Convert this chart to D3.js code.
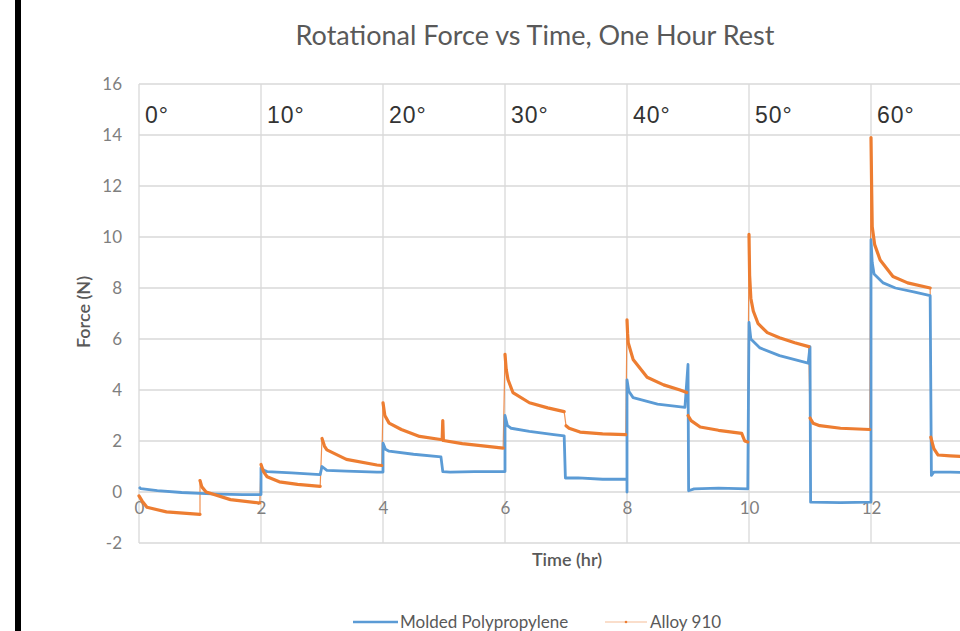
<!DOCTYPE html>
<html>
<head>
<meta charset="utf-8">
<script src="https://cdn.jsdelivr.net/npm/d3@7"></script>
<style>
  body { margin: 0; background: #fff; overflow: hidden; }
  svg { display: block; }
</style>
</head>
<body>
<div id="chart"></div>
<script>
// values: [time (hr), force (N)], one hold per inner array
var moldedPP = [
  [[0, 0.2], [0.03, 0.13], [0.3, 0.05], [0.7, -0.02], [1.0, -0.05]],
  [[1.0, -0.05], [1.3, -0.08], [1.7, -0.1], [2.0, -0.1]],
  [[2.0, 0.95], [2.05, 0.85], [2.1, 0.8], [2.5, 0.75], [2.97, 0.68]],
  [[3.0, 1.0], [3.08, 0.85], [3.4, 0.82], [3.9, 0.78], [4.0, 0.78]],
  [[4.0, 1.92], [4.04, 1.68], [4.1, 1.6], [4.5, 1.48], [4.95, 1.38]],
  [[4.98, 0.8], [5.1, 0.78], [5.5, 0.8], [6.0, 0.8]],
  [[6.0, 3.0], [6.04, 2.6], [6.1, 2.5], [6.4, 2.38], [6.8, 2.25], [6.97, 2.2]],
  [[6.99, 0.55], [7.2, 0.55], [7.6, 0.5], [8.0, 0.5], [8.0, 0.0]],
  [[8.0, 4.4], [8.03, 3.95], [8.1, 3.7], [8.5, 3.45], [8.95, 3.32], [9.0, 5.0]],
  [[9.01, 0.05], [9.1, 0.12], [9.5, 0.15], [9.98, 0.12]],
  [[10.0, 6.65], [10.03, 6.0], [10.18, 5.65], [10.5, 5.35], [10.97, 5.05], [11.0, 5.7]],
  [[11.01, -0.4], [11.5, -0.42], [12.0, -0.4]],
  [[12.0, 9.9], [12.02, 9.0], [12.05, 8.55], [12.2, 8.2], [12.4, 8.0], [12.7, 7.85], [12.97, 7.7]],
  [[12.99, 0.65], [13.03, 0.78], [13.3, 0.78], [13.6, 0.76]]
];

var alloy910 = [
  [[0, -0.15], [0.05, -0.35], [0.13, -0.6], [0.45, -0.78], [1.0, -0.88]],
  [[1.0, 0.45], [1.03, 0.2], [1.1, 0.0], [1.5, -0.3], [1.98, -0.43]],
  [[2.0, 1.08], [2.04, 0.8], [2.1, 0.6], [2.3, 0.4], [2.6, 0.3], [2.97, 0.22]],
  [[3.0, 2.1], [3.04, 1.8], [3.08, 1.65], [3.4, 1.28], [3.9, 1.06], [3.98, 1.04]],
  [[4.0, 3.5], [4.03, 3.0], [4.1, 2.7], [4.3, 2.45], [4.6, 2.18], [4.97, 2.05], [4.98, 2.8], [4.99, 2.02]],
  [[4.99, 2.02], [5.3, 1.9], [5.6, 1.82], [5.97, 1.72]],
  [[6.0, 5.4], [6.02, 4.8], [6.05, 4.4], [6.13, 3.9], [6.4, 3.5], [6.7, 3.3], [6.97, 3.15]],
  [[7.0, 2.6], [7.05, 2.5], [7.23, 2.35], [7.6, 2.28], [7.98, 2.25]],
  [[8.0, 6.75], [8.01, 6.2], [8.02, 5.85], [8.1, 5.2], [8.33, 4.5], [8.6, 4.2], [8.87, 4.0], [8.98, 3.9]],
  [[9.0, 3.0], [9.05, 2.8], [9.2, 2.55], [9.5, 2.42], [9.88, 2.3], [9.93, 2.0], [9.98, 1.96]],
  [[10.0, 10.1], [10.01, 8.5], [10.03, 7.6], [10.07, 7.1], [10.15, 6.6], [10.3, 6.25], [10.5, 6.05], [10.75, 5.85], [10.98, 5.7]],
  [[11.0, 2.9], [11.05, 2.7], [11.16, 2.6], [11.5, 2.5], [11.98, 2.45]],
  [[12.0, 13.9], [12.01, 12.0], [12.02, 10.4], [12.06, 9.7], [12.15, 9.1], [12.36, 8.45], [12.6, 8.2], [12.97, 8.0]],
  [[12.98, 2.15], [13.03, 1.7], [13.1, 1.45], [13.3, 1.42], [13.6, 1.38]]
];

var angleLabels = ["0°", "10°", "20°", "30°", "40°", "50°", "60°"];
var angleStarts = [0, 2, 4, 6, 8, 10, 12];
var xGrid = [0, 2, 4, 6, 8, 10, 12, 14, 16];
var xTickLabels = [0, 2, 4, 6, 8, 10, 12];   // 14 and 16 fall outside the picture
var yTicks = [-2, 0, 2, 4, 6, 8, 10, 12, 14, 16];
var seriesNames = ["Molded Polypropylene", "Alloy 910"];

var width = 960, height = 631;
var blue = "#5b9bd5", orange = "#ed7d31";
var font = "Lato, 'Open Sans', sans-serif";

var svg = d3.select("#chart").append("svg")
  .attr("width", width).attr("height", height);

// black strip on the left of the screenshot
svg.append("rect").attr("x", 15).attr("y", 0).attr("width", 6).attr("height", height).attr("fill", "#000");

var x = d3.scaleLinear().domain([0, 16]).range([139, 139 + 16 * 61]);
var y = d3.scaleLinear().domain([-2, 16]).range([543, 84]);

// grid
svg.append("g").selectAll("line").data(yTicks).enter().append("line")
  .attr("x1", x(0)).attr("x2", x(16))
  .attr("y1", function(d) { return y(d); }).attr("y2", function(d) { return y(d); })
  .attr("stroke", "#d9d9d9").attr("stroke-width", 1.3);
svg.append("g").selectAll("line").data(xGrid).enter().append("line")
  .attr("x1", function(d) { return x(d); }).attr("x2", function(d) { return x(d); })
  .attr("y1", y(16)).attr("y2", y(-2))
  .attr("stroke", "#d9d9d9").attr("stroke-width", 1.3);

// y axis labels
var yAxis = d3.axisLeft(y).tickValues(yTicks).tickSize(0).tickPadding(0).tickFormat(String);
var gy = svg.append("g").attr("transform", "translate(122,0)").call(yAxis);
gy.select(".domain").remove();
gy.selectAll("text").attr("font-family", font)
  .attr("font-size", 17).attr("fill", "#7f7f7f").attr("dy", "0.35em");

// x axis labels, sitting under the zero line
var xAxis = d3.axisBottom(x).tickValues(xTickLabels).tickSize(0).tickPadding(0).tickFormat(String);
var gx = svg.append("g").attr("transform", "translate(0," + (y(0) + 10) + ")").call(xAxis);
gx.select(".domain").remove();
gx.selectAll("text").attr("font-family", font)
  .attr("font-size", 17).attr("fill", "#7f7f7f");

var line = d3.line()
  .x(function(d) { return x(d[0]); })
  .y(function(d) { return y(d[1]); });

// thin orange connectors (whole series)
svg.append("path").datum(d3.merge(alloy910))
  .attr("d", line).attr("fill", "none")
  .attr("stroke", orange).attr("stroke-width", 1.2).attr("stroke-opacity", 0.85);

// blue series
svg.append("path").datum(d3.merge(moldedPP))
  .attr("d", line).attr("fill", "none")
  .attr("stroke", blue).attr("stroke-width", 2.8).attr("stroke-linejoin", "round");

// thick orange holds
svg.append("g").selectAll("path").data(alloy910).enter().append("path")
  .attr("d", line).attr("fill", "none")
  .attr("stroke", orange).attr("stroke-width", 3.2).attr("stroke-linejoin", "round").attr("stroke-linecap", "round");

// angle labels
svg.append("g").selectAll("text").data(angleLabels).enter().append("text")
  .attr("x", function(d, i) { return x(angleStarts[i]) + 6; })
  .attr("y", 123)
  .attr("font-family", "'Liberation Sans', Arial, sans-serif")
  .attr("font-size", 23).attr("letter-spacing", 1).attr("fill", "#333")
  .text(function(d) { return d; });

// titles
svg.append("text").attr("x", 535).attr("y", 45).attr("text-anchor", "middle")
  .attr("font-family", font).attr("font-size", 27)
  .attr("fill", "#595959").text("Rotational Force vs Time, One Hour Rest");

svg.append("text").attr("transform", "translate(90,312) rotate(-90)").attr("text-anchor", "middle")
  .attr("font-family", font).attr("font-size", 18).attr("font-weight", 600)
  .attr("fill", "#595959").text("Force (N)");

svg.append("text").attr("x", 567).attr("y", 566).attr("text-anchor", "middle")
  .attr("font-family", font).attr("font-size", 18).attr("font-weight", 600)
  .attr("fill", "#595959").text("Time (hr)");

// legend
var leg = svg.append("g");
leg.append("line").attr("x1", 353).attr("x2", 398).attr("y1", 622).attr("y2", 622)
  .attr("stroke", blue).attr("stroke-width", 2.6);
leg.append("text").attr("x", 400).attr("y", 628)
  .attr("font-family", font).attr("font-size", 17)
  .attr("fill", "#595959").text(seriesNames[0]);
leg.append("line").attr("x1", 605).attr("x2", 647).attr("y1", 622).attr("y2", 622)
  .attr("stroke", orange).attr("stroke-width", 1).attr("stroke-opacity", 0.5);
leg.append("circle").attr("cx", 626).attr("cy", 622).attr("r", 1.3).attr("fill", orange);
leg.append("text").attr("x", 650).attr("y", 628)
  .attr("font-family", font).attr("font-size", 17)
  .attr("fill", "#595959").text(seriesNames[1]);
</script>
</body>
</html>
